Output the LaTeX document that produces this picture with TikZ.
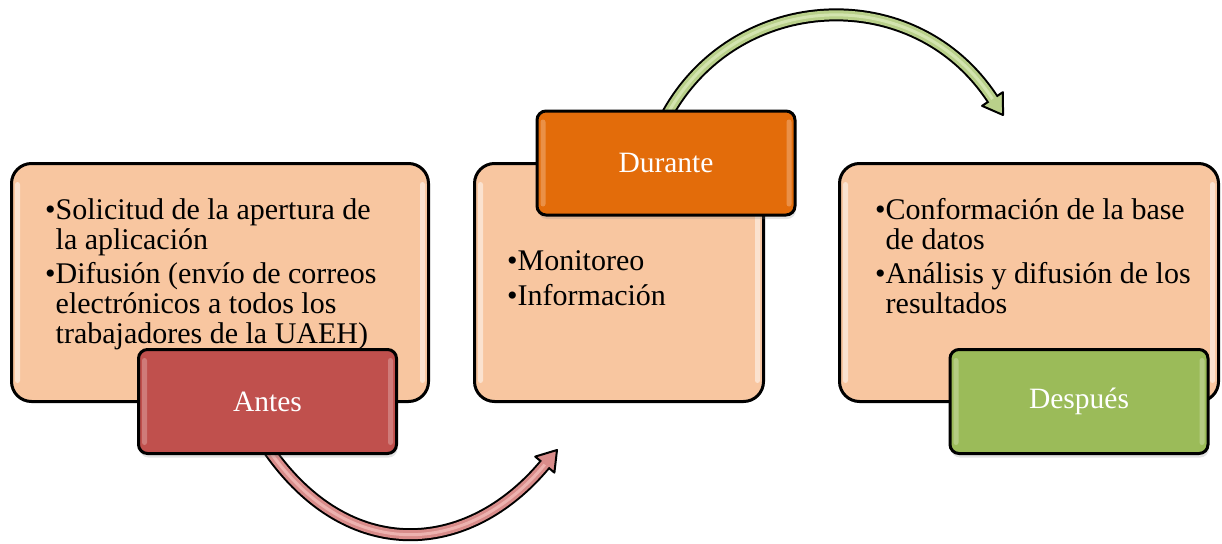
\documentclass[tikz,border=0pt]{standalone}
\usepackage{fontspec}
\setmainfont{Liberation Serif}
\usetikzlibrary{calc,shadows}
\definecolor{peach}{HTML}{F8C6A0}
\definecolor{antesred}{HTML}{C0504D}
\definecolor{duranteor}{HTML}{E36C0A}
\definecolor{despgreen}{HTML}{9BBB59}
\definecolor{redarrow}{HTML}{D98C8A}
\definecolor{redarrowlight}{HTML}{EDB2AF}
\definecolor{greenarrow}{HTML}{B9D08A}
\definecolor{greenarrowlight}{HTML}{D3E4AF}
\tikzset{
  bigbox/.style={draw=black, line width=3pt, fill=peach, rounded corners=20pt, inner sep=0pt},
  tagbox/.style={draw=black, line width=3pt, rounded corners=9pt, inner sep=0pt,
    minimum width=258pt, minimum height=104pt, text=white,
    font=\fontsize{29.5}{30}\selectfont,
    drop shadow={opacity=0.22, shadow xshift=1pt, shadow yshift=-4pt}},
  listtext/.style={align=left, inner sep=0pt, anchor=base west, text=black,
    font=\fontsize{30}{30}\selectfont},
  shine/.style={fill=white, fill opacity=0.5, rounded corners=2.5pt},
  tagshine/.style={fill=white, fill opacity=0.25, rounded corners=2.5pt},
  shaftout/.style={draw=black, line width=13pt},
}
\begin{document}
\begin{tikzpicture}[x=1pt,y=-1pt]
\useasboundingbox (0,0) rectangle (1222,543);

% big boxes
\node[bigbox, minimum width=417pt, minimum height=238pt] (b1) at (220,282.5) {};
\node[bigbox, minimum width=289pt, minimum height=238pt] (b2) at (619,282.5) {};
\node[bigbox, minimum width=379pt, minimum height=238pt] (b3) at (1029,282.5) {};

\foreach \b in {b1,b2,b3}{
  \fill[shine] ($(\b.north west)+(5,20)$) rectangle ($(\b.south west)+(10,-20)$);
  \fill[shine] ($(\b.north east)+(-10,20)$) rectangle ($(\b.south east)+(-5,-20)$);
}

% arrow end points
\coordinate (redtip) at (557,450);
\coordinate (redend) at ($(redtip)+(-12.2,14.6)$);
\coordinate (greentip) at (1003,115);
\coordinate (greenend) at ($(greentip)+(-10.5,-16)$);

% tag positions needed first for arrow starts
\coordinate (antesc) at (267.5,401.5);
\coordinate (durantec) at (666,163);

% red arrow
\coordinate (rs) at ($(antesc)+(1,48)$);
\draw[shaftout] (rs) .. controls +(80,115) and ($(redend)+(-77,92)$) .. (redend);
\filldraw[fill=redarrow, draw=black, line width=2pt, line join=round]
  (redtip) -- ($(redend)!12.5pt!90:(redtip)$) -- ($(redend)!12.5pt!-90:(redtip)$) -- cycle;
\draw[draw=redarrow, line width=9pt] (rs) .. controls +(80,115) and ($(redend)+(-77,92)$) .. (redend) -- ($(redend)!4pt!(redtip)$);
\draw[draw=redarrowlight, line width=3pt] (rs) .. controls +(80,115) and ($(redend)+(-77,92)$) .. (redend);

% green arrow
\coordinate (gs) at ($(durantec)+(2,-50)$);
\draw[shaftout] (gs) .. controls +(69.5,-123.5) and ($(greenend)+(-78,-119)$) .. (greenend);
\filldraw[fill=greenarrow, draw=black, line width=2pt, line join=round]
  (greentip) -- ($(greenend)!12.5pt!90:(greentip)$) -- ($(greenend)!12.5pt!-90:(greentip)$) -- cycle;
\draw[draw=greenarrow, line width=9pt] (gs) .. controls +(69.5,-123.5) and ($(greenend)+(-78,-119)$) .. (greenend) -- ($(greenend)!4pt!(greentip)$);
\draw[draw=greenarrowlight, line width=3pt] (gs) .. controls +(69.5,-123.5) and ($(greenend)+(-78,-119)$) .. (greenend);

% tag boxes
\node[tagbox, fill=antesred] (antes) at (antesc) {Antes};
\node[tagbox, fill=duranteor] (durante) at (durantec) {Durante};
\node[tagbox, fill=despgreen] (despues) at (1079,401.5) {Después};

\foreach \b in {antes,durante,despues}{
  \fill[tagshine] ($(\b.north west)+(5,10)$) rectangle ($(\b.south west)+(10,-10)$);
  \fill[tagshine] ($(\b.north east)+(-10,10)$) rectangle ($(\b.south east)+(-5,-10)$);
}

% texts (anchor = baseline of the last line)
\node[listtext] (t1) at (45,343) {•Solicitud de la apertura de\\
\hphantom{•}la aplicación\\[4pt]
•Difusión (envío de correos\\
\hphantom{•}electrónicos a todos los\\
\hphantom{•}trabajadores de la UAEH)};
\node[listtext] (t2) at (507,305) {•Monitoreo\\[5pt]
•Información};
\node[listtext] (t3) at (875,313) {•Conformación de la base\\
\hphantom{•}de datos\\[4pt]
•Análisis y difusión de los\\
\hphantom{•}resultados};
\end{tikzpicture}
\end{document}
